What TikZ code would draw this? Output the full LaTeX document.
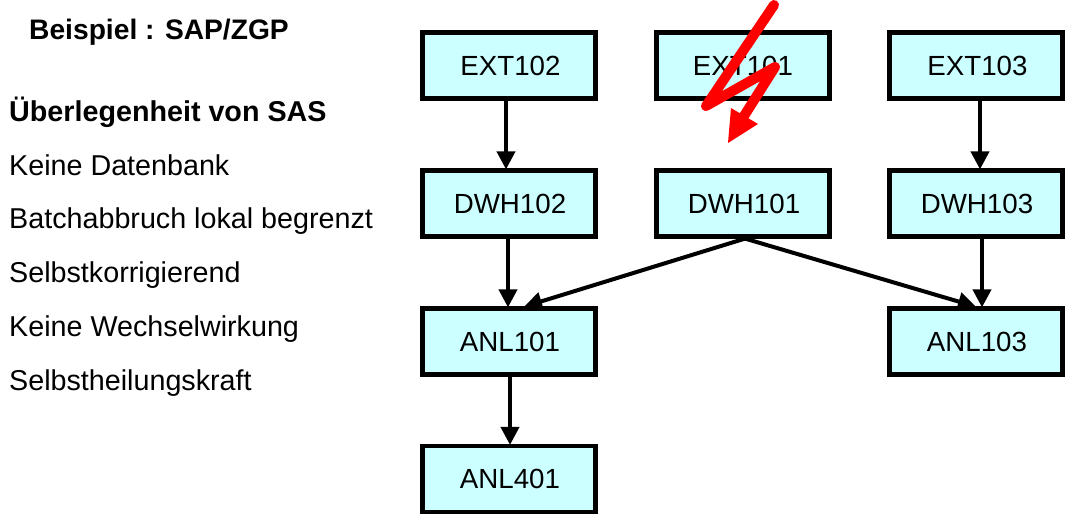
\documentclass[tikz,border=0pt]{standalone}
\usepackage{fontspec}
\setmainfont{Liberation Sans}
\usetikzlibrary{calc,arrows.meta}
\definecolor{boxfill}{RGB}{204,255,255}
\tikzset{
  x=1pt,y=-1pt,
  boxn/.style={draw=black,line width=4.2pt,fill=boxfill,minimum width=173pt,minimum height=66pt,inner sep=0pt,font=\fontsize{27.7}{30}\selectfont,text=black},
  conn/.style={line width=4pt,-{Triangle[length=18pt,width=18pt]},shorten >=-1pt},
  lab/.style={anchor=base west,inner sep=0pt,font=\fontsize{28.7}{32}\selectfont},
  bl/.style={lab,font=\bfseries\fontsize{28.7}{32}\selectfont}
}
\begin{document}
\begin{tikzpicture}
\useasboundingbox (0,0) rectangle (1069,514);
\node[boxn] (e2) at (509,65.5) {\hspace{3pt}EXT102};
\node[boxn] (e1) at (743,65.5) {EXT101};
\node[boxn] (e3) at (976,65.5) {\hspace{3pt}EXT103};
\node[boxn] (d2) at (509,203.5) {\hspace{2pt}DWH102};
\node[boxn] (d1) at (743,203.5) {\hspace{2pt}DWH101};
\node[boxn] (d3) at (976,203.5) {\hspace{2pt}DWH103};
\node[boxn] (a1) at (509,341.5) {\hspace{2pt}ANL101};
\node[boxn] (a3) at (976,341.5) {\hspace{2pt}ANL103};
\node[boxn] (a4) at (509,479) {\hspace{2pt}ANL401};
\draw[conn] ([xshift=-3pt]e2.south) -- ([xshift=-3pt]d2.north);
\draw[conn] ([xshift=-1pt]d2.south) -- ([xshift=-1pt]a1.north);
\draw[conn] ([xshift=1pt]a1.south) -- ([xshift=1pt]a4.north);
\draw[conn] ([xshift=4pt]e3.south) -- ([xshift=4pt]d3.north);
\draw[conn] ([xshift=6pt]d3.south) -- ([xshift=6pt]a3.north);
\draw[conn] ([xshift=2pt]d1.south) -- ([xshift=16pt]a1.north);
\draw[conn] ([xshift=2pt]d1.south) -- ([xshift=-1pt]a3.north);
\draw[red,line width=10pt,line cap=round,line join=round] (774,5) -- (706,106) -- (775,67) -- (744,116);
\fill[red] (728,143) -- (731,108) -- (758,124) -- cycle;
\node[bl] (t0) at (29,39) {\fontsize{28.2}{32}\selectfont Beispiel : SAP/ZGP};
\node[bl] (t1) at (9,121) {Überlegenheit von SAS};
\node[lab] (t2) at (9,175) {Keine Datenbank};
\node[lab] (t3) at (9,228) {Batchabbruch lokal begrenzt};
\node[lab] (t4) at (9,282) {Selbstkorrigierend};
\node[lab] (t5) at (9,336) {Keine Wechselwirkung};
\node[lab] (t6) at (9,390) {Selbstheilungskraft};
\end{tikzpicture}
\end{document}
